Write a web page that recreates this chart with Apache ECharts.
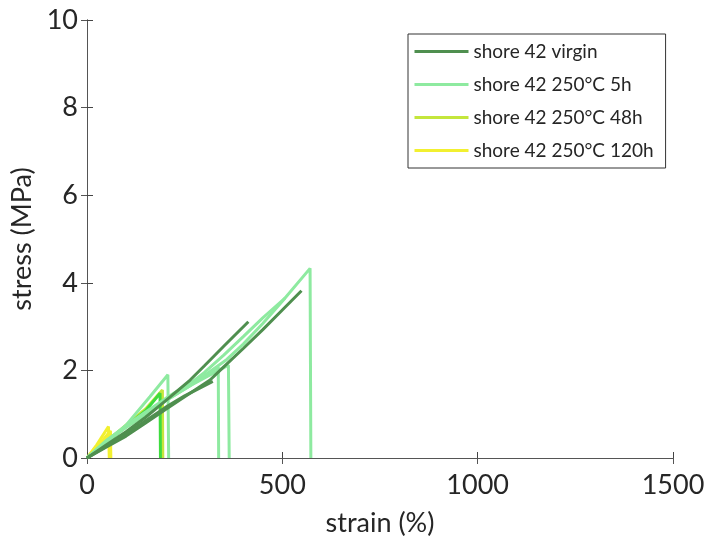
<!DOCTYPE html>
<html>
<head>
<meta charset="utf-8">
<script src="https://cdn.jsdelivr.net/npm/echarts@6/dist/echarts.min.js"></script>
<style>
  html, body { margin: 0; padding: 0; background: #fff; }
  #chart_main { width: 708px; height: 545px; }
</style>
</head>
<body>
<div id="chart_main"></div>
<script>
// legend names
var names = ['shore 42 virgin', 'shore 42 250°C 5h', 'shore 42 250°C 48h', 'shore 42 250°C 120h'];

// x / y ticks
var xTicks = [0, 500, 1000, 1500];
var yTicks = [0, 2, 4, 6, 8, 10];

// virgin samples [strain %, stress MPa]
var virginA = [[0, 0], [50, 0.3], [100, 0.6], [150, 0.93], [200, 1.3], [264, 1.78], [300, 2.1], [350, 2.55], [413, 3.11]];
var virginB = [[0, 0], [50, 0.25], [100, 0.5], [150, 0.8], [200, 1.1], [250, 1.4], [315, 1.78], [350, 2.08], [400, 2.5], [450, 2.93], [500, 3.38], [549, 3.82]];
var virginC = [[0, 0], [50, 0.27], [100, 0.55], [150, 0.85], [200, 1.15], [250, 1.42], [322, 1.75]];

// 250°C 5h samples
var h5A = [[0, 0], [50, 0.38], [100, 0.7], [150, 1.0], [200, 1.3], [264, 1.65], [300, 1.88], [358, 2.25], [400, 2.6], [450, 3.07], [500, 3.58], [571, 4.33], [573, 0]];
var h5B = [[0, 0], [50, 0.4], [100, 0.72], [150, 1.02], [200, 1.32], [264, 1.7], [300, 1.95], [350, 2.35], [400, 2.77], [450, 3.2], [507, 3.65]];
var h5C = [[0, 0], [50, 0.4], [100, 0.74], [150, 1.05], [200, 1.35], [264, 1.72], [300, 1.86], [336, 2.08], [337, 0]];
var h5D = [[0, 0], [50, 0.38], [100, 0.7], [150, 1.0], [200, 1.3], [264, 1.65], [320, 1.92], [362, 2.12], [364, 0]];
var h5E = [[0, 0], [50, 0.35], [100, 0.75], [161, 1.4], [207, 1.9], [209, 0]];

// 250°C 48h samples
var h48A = [[0, 0], [50, 0.38], [100, 0.75], [150, 1.12], [193, 1.55], [194, 0]];
var h48B = [[0, 0], [50, 0.36], [100, 0.72], [150, 1.08], [187, 1.48], [188, 0]];

// 250°C 120h samples
var h120A = [[0, 0], [25, 0.3], [55, 0.72], [57, 0]];
var h120B = [[0, 0], [30, 0.3], [60, 0.62], [61, 0]];
var h120C = [[0, 0], [30, 0.25], [58, 0.5], [59, 0]];

var colors = ['#4f8f4f', '#8eeaa0', '#c4e63c', '#f2f030'];
var font = 'Lato, "Open Sans", sans-serif';

function curve(name, data, color, z) {
    return {
        name: name,
        type: 'line',
        data: data,
        symbol: 'none',
        showSymbol: false,
        z: z,
        lineStyle: { color: color, width: 3 },
        itemStyle: { color: color },
        animation: false
    };
}

var myChart = echarts.init(document.getElementById('chart_main'));
var series = [
    // first series of each name sets the legend colour
    curve(names[0], virginA, colors[0], 4),
    curve(names[0], virginB, colors[0], 4),
    curve(names[0], virginC, colors[0], 4),
    curve(names[1], h5A, colors[1], 3),
    curve(names[1], h5B, colors[1], 3),
    curve(names[1], h5C, colors[1], 3),
    curve(names[1], h5D, colors[1], 3),
    curve(names[1], h5E, colors[1], 3),
    curve(names[2], h48A, colors[2], 2),
    curve(names[2], h48B, '#3edc3e', 2),
    curve(names[3], h120A, colors[3], 1),
    curve(names[3], h120B, colors[3], 1),
    curve(names[3], h120C, colors[3], 1)
];

function plain(v) { return String(v); }

var option = {
    backgroundColor: '#fff',
    animation: false,
    textStyle: { fontFamily: font },
    grid: { left: 87, right: 35, top: 20, bottom: 87, show: false },
    legend: {
        data: names,
        orient: 'vertical',
        left: 408,
        top: 34,
        itemWidth: 54,
        itemHeight: 14,
        itemGap: 14,
        padding: [8, 12, 8, 5],
        backgroundColor: '#fff',
        borderColor: '#333',
        borderWidth: 1,
        borderRadius: 0,
        selectedMode: false,
        itemStyle: { opacity: 0 },
        lineStyle: { width: 3 },
        textStyle: { fontSize: 19, color: '#262626', fontFamily: font }
    },
    xAxis: [{
        type: 'value',
        min: xTicks[0],
        max: xTicks[xTicks.length - 1],
        interval: 500,
        name: 'strain (%)',
        nameLocation: 'middle',
        nameGap: 52,
        nameTextStyle: { fontSize: 27, color: '#262626' },
        axisLine: { show: true, lineStyle: { color: '#444', width: 1 } },
        axisTick: { show: true, inside: true, length: 6, lineStyle: { color: '#444' } },
        axisLabel: { fontSize: 27, color: '#262626', margin: 14, formatter: plain },
        splitLine: { show: false }
    }, {
        type: 'value',
        position: 'top',
        min: xTicks[0],
        max: xTicks[xTicks.length - 1],
        interval: 500,
        axisLine: { show: true, lineStyle: { color: '#555', width: 1 } },
        axisTick: { show: true, inside: true, length: 6, lineStyle: { color: '#555' } },
        axisLabel: { show: false },
        splitLine: { show: false }
    }],
    yAxis: [{
        type: 'value',
        min: yTicks[0],
        max: yTicks[yTicks.length - 1],
        interval: 2,
        name: 'stress (MPa)',
        nameLocation: 'middle',
        nameGap: 46,
        nameTextStyle: { fontSize: 27, color: '#262626' },
        axisLine: { show: true, lineStyle: { color: '#444', width: 1 } },
        axisTick: { show: true, inside: true, length: 6, lineStyle: { color: '#444' } },
        axisLabel: { fontSize: 27, color: '#262626', margin: 9, formatter: plain },
        splitLine: { show: false }
    }, {
        type: 'value',
        position: 'right',
        min: yTicks[0],
        max: yTicks[yTicks.length - 1],
        interval: 2,
        axisLine: { show: true, lineStyle: { color: '#555', width: 1 } },
        axisTick: { show: true, inside: true, length: 6, lineStyle: { color: '#555' } },
        axisLabel: { show: false },
        splitLine: { show: false }
    }],
    series: series
};

myChart.setOption(option);
window.addEventListener('resize', function () {
    myChart.resize();
});
</script>
</body>
</html>
